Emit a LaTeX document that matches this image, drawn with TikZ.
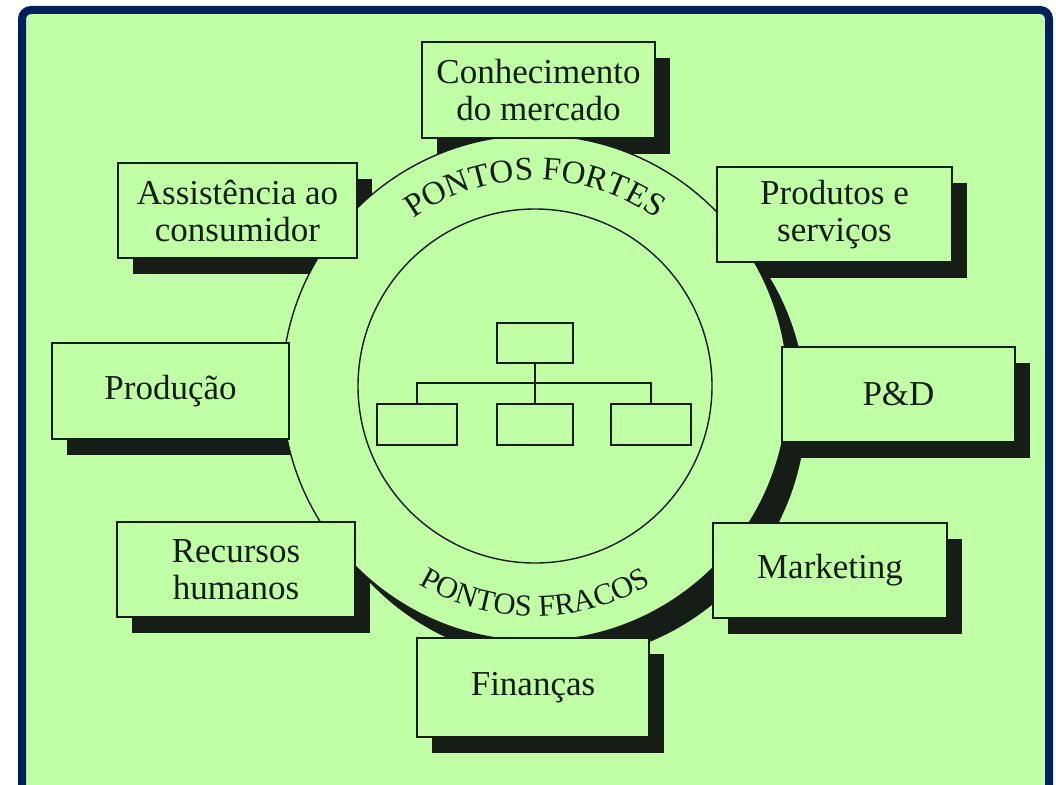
\documentclass[tikz,border=0pt]{standalone}
\usepackage{fontspec}
\setmainfont{Liberation Serif}
\usetikzlibrary{decorations.text}
\pgfdeclarelayer{bga}
\pgfdeclarelayer{bgb}
\pgfsetlayers{bga,bgb,main}
\definecolor{bgg}{RGB}{192,255,166}
\definecolor{navy}{RGB}{0,32,91}
\definecolor{ink}{RGB}{22,28,22}
\newcommand\arcfontA{\fontsize{33}{33}\selectfont}
\newcommand\arcfontB{\fontsize{30.5}{30.5}\selectfont}
\begin{document}
\begin{tikzpicture}[x=1pt,y=1pt,
  box/.style={draw=ink, line width=1.4pt, fill=bgg, outer sep=0pt, inner sep=0pt,
    align=center, font=\fontsize{35}{37}\selectfont, text=ink},
  orgbox/.style={draw=ink, line width=1.3pt, fill=bgg, outer sep=0pt, inner sep=0pt},
  orgline/.style={draw=ink, line width=1.1pt},
  ring/.style={draw=ink, line width=1.4pt}]
\useasboundingbox (0,0) rectangle (1056,-784);
\clip (0,0) rectangle (1056,-784);

% boxes
\node[box, minimum width=233, minimum height=96] (know)   at (538.5,-90)   {Conhecimento\\do mercado};
\node[box, minimum width=239, minimum height=95] (assist) at (237.5,-210.5) {Assistência ao\\consumidor};
\node[box, minimum width=235, minimum height=95] (prods)  at (834.5,-214.5) {Produtos e\\serviços};
\node[box, minimum width=237, minimum height=96] (prodc)  at (170.5,-391)   {Produção};
\node[box, minimum width=233, minimum height=95] (pd)     at (898.5,-394.5) {P\&D};
\node[box, minimum width=238, minimum height=95] (rh)     at (236,-569.5)   {Recursos\\humanos};
\node[box, minimum width=234, minimum height=95] (mkt)    at (830,-570.5)   {Marketing};
\node[box, minimum width=232, minimum height=99] (fin)    at (533,-687.5)   {Finanças};

% organisation chart
\node[orgbox, minimum width=76, minimum height=40] (ctop) at (535,-343) {};
\node[orgbox, minimum width=80, minimum height=41] (cl)   at (417,-424.5) {};
\node[orgbox, minimum width=76, minimum height=41] (cm)   at (535,-424.5) {};
\node[orgbox, minimum width=80, minimum height=41] (cr)   at (651,-424.5) {};
\coordinate (bus) at (535,-383);
\draw[orgline] (ctop.south) -- (cm.north);
\draw[orgline] (cl.north) |- (bus) -| (cr.north);

% curved texts
\path[decorate, decoration={text along path, text={|\arcfontA|PONTOS FORTES}, text align=center, text color=ink}]
  (327,-388) arc[start angle=180, end angle=0, radius=208];
\path[decorate, decoration={text along path, text={|\arcfontB|PONTOS FRACOS}, text align=center, text color=ink}]
  (307,-388) arc[start angle=180, end angle=360, radius=228];

\begin{pgfonlayer}{bga}
  \draw[navy, line width=8pt, fill=bgg, rounded corners=9pt] (22,-10) rectangle (1049,-800);
  \foreach \n in {know,assist,prods,prodc,pd,rh,mkt,fin}
    \fill[ink] ([shift={(15,-16)}]\n.north west) rectangle ([shift={(15,-16)}]\n.south east);
\end{pgfonlayer}
\begin{pgfonlayer}{bgb}
  \fill[ink] (553,-408) circle[radius=253];
  \draw[ring, fill=bgg] (535,-388) circle[radius=253];
  \draw[ring] (535,-386) circle[radius=177];
\end{pgfonlayer}
\end{tikzpicture}
\end{document}
